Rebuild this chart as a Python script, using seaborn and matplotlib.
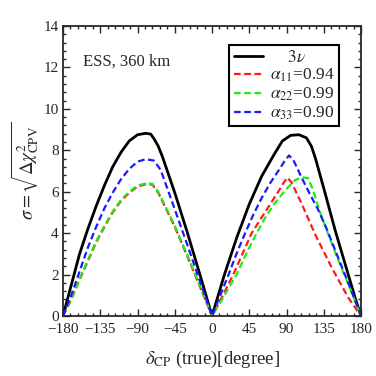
import matplotlib
matplotlib.use("Agg")
import matplotlib.pyplot as plt
import seaborn as sns
import pandas as pd
from matplotlib.ticker import AutoMinorLocator

# data (delta_CP in degrees, sigma)
delta_3nu = [-180, -170, -160, -150, -140, -130, -120, -110, -100, -90, -80, -74, -70, -65, -60, -45, -30, -15, 0,
             15, 30, 45, 60, 75, 85, 95, 105, 114, 120, 125, 137, 149, 161, 173, 180]
sigma_3nu = [0, 1.5, 3.0, 4.2, 5.3, 6.3, 7.2, 7.9, 8.45, 8.75, 8.82, 8.78, 8.55, 8.2, 7.7, 5.95, 4.05, 2.05, 0,
             2.0, 3.8, 5.4, 6.75, 7.8, 8.45, 8.72, 8.75, 8.6, 8.2, 7.6, 5.87, 4.1, 2.48, 0.86, 0]

delta_a11 = [-180, -170, -160, -150, -140, -130, -120, -110, -100, -90, -80, -72, -65, -45, -30, -15, 0,
             10, 20, 25.7, 30, 40, 47.9, 60, 70, 80, 86, 91, 96, 108.6, 124.7, 144.9, 165, 180]
sigma_a11 = [0, 0.8, 1.75, 2.65, 3.55, 4.3, 5.0, 5.55, 5.95, 6.25, 6.36, 6.34, 5.95, 4.3, 2.9, 1.45, 0,
             0.75, 1.55, 2.0, 2.39, 3.29, 4.0, 4.76, 5.38, 6.0, 6.4, 6.68, 6.45, 5.39, 3.93, 2.31, 0.86, 0]

delta_a22 = [-180, -170, -160, -150, -140, -130, -120, -110, -100, -90, -80, -72, -65, -45, -30, -15, 0,
             10, 20, 29.7, 40, 53.9, 65, 75, 88, 100, 108, 116, 122, 128.7, 138, 150, 165, 180]
sigma_a22 = [0, 0.85, 1.8, 2.7, 3.6, 4.35, 5.05, 5.6, 6.0, 6.3, 6.4, 6.38, 6.0, 4.35, 2.95, 1.5, 0,
             0.65, 1.35, 2.0, 2.9, 4.0, 4.8, 5.4, 6.05, 6.55, 6.7, 6.65, 6.1, 5.2, 4.2, 2.95, 1.5, 0]

delta_a33 = [-180, -170, -160, -150, -140, -130, -120, -110, -100, -90, -80, -70, -62, -45, -30, -15, 0,
             10, 20, 30, 40, 50, 60, 70, 80, 88, 93, 98, 108, 118, 128, 138, 150, 165, 180]
sigma_a33 = [0, 1.0, 2.15, 3.3, 4.3, 5.2, 5.95, 6.6, 7.1, 7.45, 7.57, 7.5, 7.05, 5.15, 3.45, 1.72, 0,
             1.0, 2.0, 3.05, 4.0, 4.9, 5.7, 6.4, 7.0, 7.5, 7.75, 7.55, 6.7, 5.9, 5.15, 4.25, 3.05, 1.55, 0]

labels = ["    $3\\nu$", "$\\alpha_{11}$=0.94", "$\\alpha_{22}$=0.99", "$\\alpha_{33}$=0.90"]
colors = ["black", "#ff1a1a", "#1aee1a", "#1a1aff"]
xticks = [-180, -135, -90, -45, 0, 45, 90, 135, 180]
yticks = [0, 2, 4, 6, 8, 10, 12, 14]

sns.set_style("ticks")
plt.rcParams["font.family"] = ["Liberation Serif", "DejaVu Serif"]
plt.rcParams["mathtext.fontset"] = "stix"
plt.rcParams["xtick.direction"] = "in"
plt.rcParams["ytick.direction"] = "in"

fig = plt.figure(figsize=(3.76, 3.76), dpi=100)
ax = fig.add_axes([0.1676, 0.1596, 0.7926, 0.7713])

series = [(delta_3nu, sigma_3nu), (delta_a11, sigma_a11), (delta_a22, sigma_a22), (delta_a33, sigma_a33)]
for i, (d, s) in enumerate(series):
    df = pd.DataFrame({"delta": d, "sigma": s})
    if i == 0:
        sns.lineplot(data=df, x="delta", y="sigma", ax=ax, color=colors[i], lw=2.0,
                     label=labels[i], sort=False)
    else:
        sns.lineplot(data=df, x="delta", y="sigma", ax=ax, color=colors[i], lw=1.6,
                     label=labels[i], sort=False)
        ax.lines[-1].set_dashes([3, 1.6])

ax.set_xlim(-180, 180)
ax.set_ylim(0, 14)
ax.set_xticks(xticks)
ax.set_xticklabels([("\u2212" + str(-t)) if t < 0 else str(t) for t in xticks])
ax.set_yticks(yticks)
ax.xaxis.set_minor_locator(AutoMinorLocator(5))
ax.yaxis.set_minor_locator(AutoMinorLocator(5))
ax.tick_params(which="both", top=True, right=True, labelsize=11, width=1.0)
ax.tick_params(axis="x", pad=5)
ax.tick_params(axis="y", pad=3)
ax.tick_params(which="major", length=5)
ax.tick_params(which="minor", length=2.5)
for sp in ax.spines.values():
    sp.set_linewidth(1.3)

ax.set_xlabel("$\\delta_{\\rm CP}$ (true)[degree]", fontsize=13.5, labelpad=9)
ax.set_ylabel("$\\sigma=\\sqrt{\\Delta\\chi^2_{\\rm CPV}}$", fontsize=13.5, labelpad=2)

ax.text(0.067, 0.876, "ESS, 360 km", transform=ax.transAxes, fontsize=12, va="center", ha="left")

leg = ax.legend(loc="upper right", bbox_to_anchor=(0.902, 0.880), bbox_transform=fig.transFigure,
                borderaxespad=0, fancybox=False, framealpha=1, edgecolor="black", fontsize=12.5,
                handlelength=1.7, handletextpad=0.4, labelspacing=0.08, borderpad=0.25)
leg.get_frame().set_linewidth(1.5)

fig.savefig("out.png", dpi=100)
